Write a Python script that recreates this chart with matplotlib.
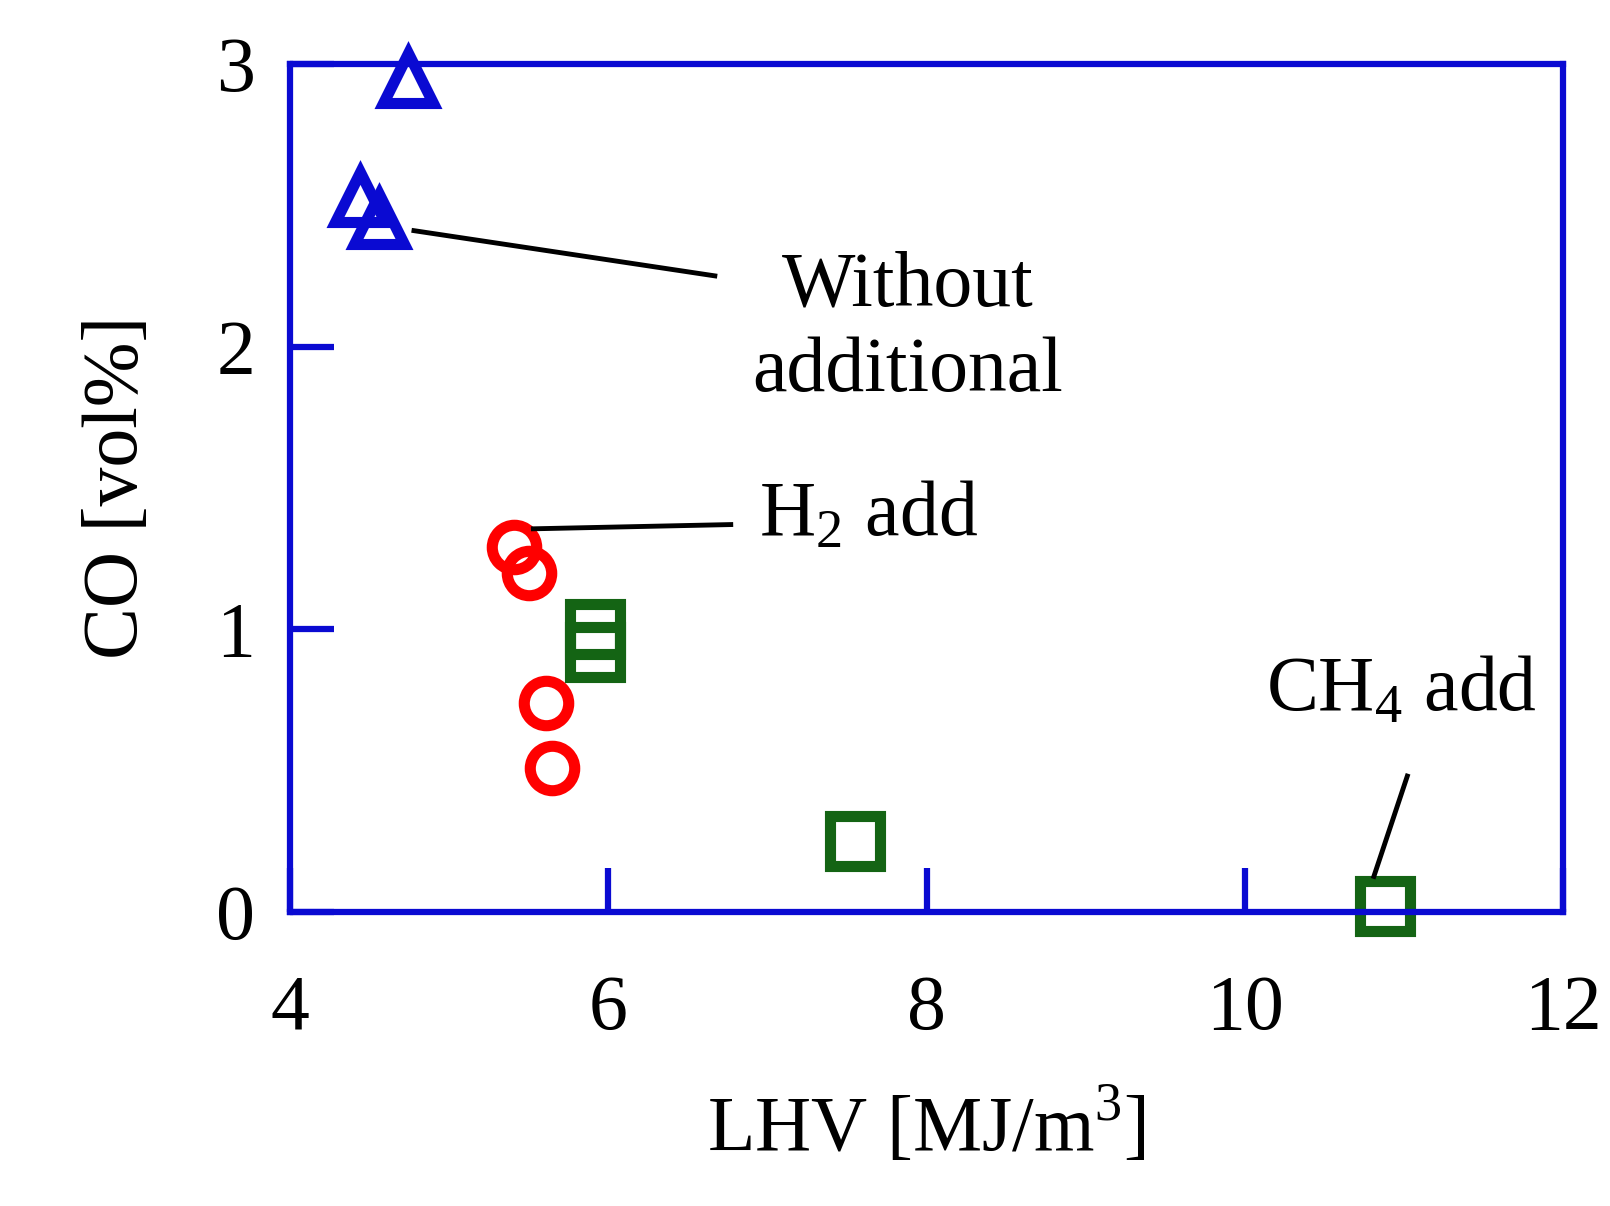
import matplotlib
matplotlib.use("Agg")
import matplotlib.pyplot as plt

plt.rcParams['font.family'] = ['Liberation Serif', 'DejaVu Serif']
plt.rcParams['mathtext.fontset'] = 'custom'
plt.rcParams['mathtext.rm'] = 'Liberation Serif'

# data
lhv_none = [4.74, 4.44, 4.56]
co_none = [2.95, 2.53, 2.45]
lhv_h2 = [5.41, 5.50, 5.61, 5.65]
co_h2 = [1.29, 1.20, 0.74, 0.51]
lhv_ch4 = [5.92, 5.92, 7.55, 10.88]
co_ch4 = [1.00, 0.92, 0.25, 0.02]

blue = '#0a0ad2'
fig = plt.figure(figsize=(16.1, 12.06), dpi=100)
ax = fig.add_axes([0.180, 0.244, 0.791, 0.703])

ax.plot(lhv_none, co_none, '^', ms=36, mfc='none', mec=blue, mew=8, clip_on=False)
ax.plot(lhv_h2, co_h2, 'o', ms=32, mfc='none', mec='red', mew=8, clip_on=False)
ax.plot(lhv_ch4, co_ch4, 's', ms=36, mfc='none', mec='#146414', mew=8, clip_on=False)

ax.set_xlim(4, 12)
ax.set_ylim(0, 3)
ax.set_xticks([4, 6, 8, 10, 12])
ax.set_yticks([0, 1, 2, 3])
for s in ax.spines.values():
    s.set_color(blue)
    s.set_linewidth(4.5)
ax.tick_params(direction='in', length=32, width=4.5, color=blue, labelsize=56)
ax.tick_params(axis='x', pad=45)
ax.tick_params(axis='y', pad=25)
ax.set_xlabel('LHV [MJ/m$^3$]', fontsize=56, labelpad=30)
ax.set_ylabel('CO [vol%]', fontsize=56, labelpad=45)

ax.plot([4.78, 6.67], [2.41, 2.25], 'k-', lw=3.5)
ax.text(7.88, 2.06, 'Without\nadditional', fontsize=56, ha='center', va='center', linespacing=1.25)
ax.plot([5.53, 6.77], [1.355, 1.37], 'k-', lw=3.5)
ax.text(6.95, 1.40, 'H$_2$ add', fontsize=56, ha='left', va='center')
ax.plot([10.81, 11.02], [0.125, 0.48], 'k-', lw=3.5)
ax.text(10.98, 0.78, 'CH$_4$ add', fontsize=56, ha='center', va='center')

fig.savefig('out.png', dpi=100)
